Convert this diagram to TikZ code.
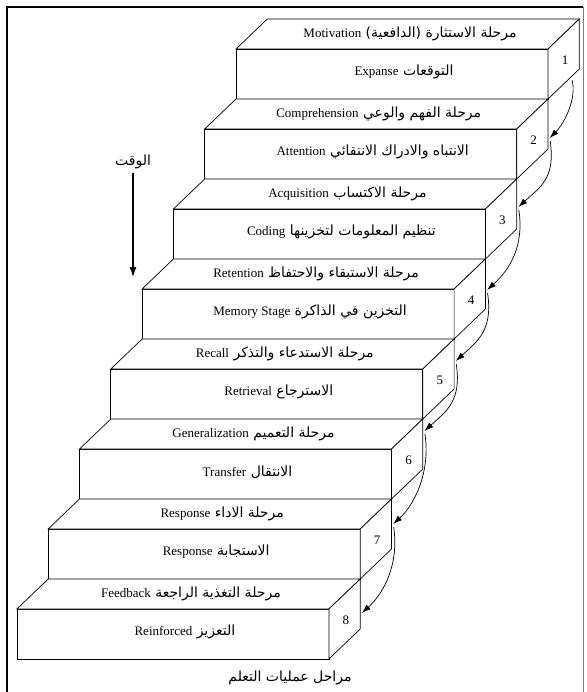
\documentclass[tikz,border=0pt]{standalone}
\usepackage{fontspec}
\setmainfont{Liberation Serif}
\newfontfamily\arabicfont[Script=Arabic]{DejaVu Sans}
\TeXXeTstate=1
\usetikzlibrary{arrows.meta}

% arabic words first (right), latin word last (left)
\newcommand{\stagetext}[2]{{\arabicfont\fontsize{14}{16}\selectfont\beginR #1 \beginL\rmfamily\fontsize{13}{15}\selectfont #2\endL\endR}}
\newcommand{\arabictext}[1]{{\arabicfont\fontsize{14}{16}\selectfont\beginR #1\endR}}

\begin{document}
\begin{tikzpicture}[
        x=1pt, y=-1pt,
        face/.style={draw, fill=white, line width=0.7pt},
        toplabel/.style={inner sep=1pt},
        frontlabel/.style={inner sep=1pt},
        numlabel/.style={inner sep=1pt, font=\fontsize{13}{15}\selectfont},
        flow/.style={-{Latex[length=9pt,width=6pt]}, line width=0.7pt},
        timeline/.style={-{Latex[length=10pt,width=7pt]}, line width=1.1pt},
        frame/.style={line width=2.4pt}
    ]
        \useasboundingbox (0,0) rectangle (586,692);

        % frame
        \draw[frame] (7,692) -- (7,7) -- (583,7);
        \draw[gray, line width=0.6pt] (583,7) -- (583,692);

        % the eight steps: front, top and side faces
        \foreach \i/\off [evaluate=\i as \L using {236-31.3*(\i-1)},
                          evaluate=\i as \T using {49+80*(\i-1)}]
                in {1/0, 2/9, 3/-2, 4/1, 5/-8, 6/-18, 7/-5, 8/4} {
            \draw[face] (\L,\T) rectangle ++(312,50);
            \draw[face] (\L,\T) -- ++(31.3,-30) -- ++(312,0) -- ++(-31.3,30) -- cycle;
            \draw[face] (\L+312,\T) -- ++(31.3,-30) -- ++(0,50) -- ++(-31.3,30) -- cycle;
            \node[numlabel] (num\i) at (\L+329,\T+11) {\i};
            \coordinate (tip\i) at (\L+345,\T+\off);
        }

        % stage names
        \foreach \i/\ta/\tl/\fa/\fl [evaluate=\i as \L using {236-31.3*(\i-1)},
                                     evaluate=\i as \T using {49+80*(\i-1)}]
                in {1/{مرحلة الاستثارة (الدافعية)}/Motivation/{التوقعات}/Expanse,
                    2/{مرحلة الفهم والوعي}/Comprehension/{الانتباه والادراك الانتقائي}/Attention,
                    3/{مرحلة الاكتساب}/Acquisition/{تنظيم المعلومات لتخزينها}/Coding,
                    4/{مرحلة الاستبقاء والاحتفاظ}/Retention/{التخزين في الذاكرة}/{Memory Stage},
                    5/{مرحلة الاستدعاء والتذكر}/Recall/{الاسترجاع}/Retrieval,
                    6/{مرحلة التعميم}/Generalization/{الانتقال}/Transfer,
                    7/{مرحلة الاداء}/Response/{الاستجابة}/Response,
                    8/{مرحلة التغذية الراجعة}/Feedback/{التعزيز}/Reinforced} {
            \node[toplabel] (top\i) at (\L+174,\T-15) {\stagetext{\ta}{\tl}};
            \node[frontlabel] (front\i) at (\L+168,\T+23) {\stagetext{\fa}{\fl}};
        }

        % arrows down the right side
        \coordinate (start1) at (572,80);
        \draw[flow] (start1) .. controls +(5,18) and +(15,-15) .. (tip2);
        \foreach \i [evaluate=\i as \j using int(\i+1)] in {2,...,7}
            \draw[flow, shorten <=3pt] (tip\i) .. controls +(6,40) and +(22,-20) .. (tip\j);

        % time
        \node (time) at (133,162) {\arabictext{الوقت}};
        \coordinate (timeend) at (133,277);
        \draw[timeline] (time) -- (timeend);

        \node (caption) at (290,678) {\arabictext{مراحل عمليات التعلم}};
    \end{tikzpicture}
\end{document}
